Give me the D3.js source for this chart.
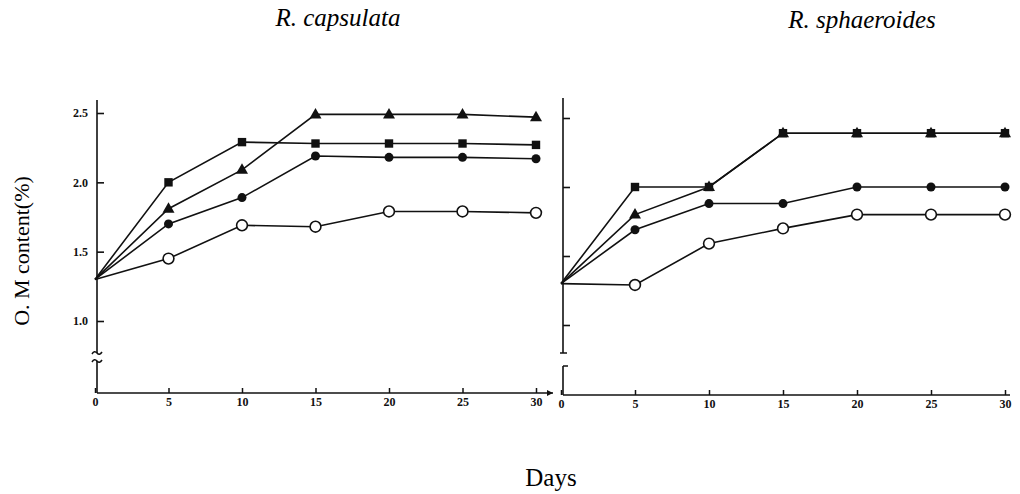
<!DOCTYPE html>
<html><head><meta charset="utf-8">
<script src="https://cdn.jsdelivr.net/npm/d3@7"></script>
<style>body{margin:0;background:#fff}svg{display:block}</style>
</head><body>
<svg id="c" width="1020" height="494"></svg>
<script>
const days = [0, 5, 10, 15, 20, 25, 30];
const yTicks = [1.0, 1.5, 2.0, 2.5];
const yTickLabels = ["1.0", "1.5", "2.0", "2.5"];
const panelTitles = ["R. capsulata", "R. sphaeroides"];
// R. capsulata
const capTriangle = [1.3, 1.81, 2.09, 2.49, 2.49, 2.49, 2.47];
const capSquare   = [1.3, 2.00, 2.29, 2.28, 2.28, 2.28, 2.27];
const capCircle   = [1.3, 1.70, 1.89, 2.19, 2.18, 2.18, 2.17];
const capOpen     = [1.3, 1.45, 1.69, 1.68, 1.79, 1.79, 1.78];
// R. sphaeroides
const sphTriangle = [1.3, 1.80, 2.00, 2.39, 2.39, 2.39, 2.39];
const sphSquare   = [1.3, 2.00, 2.00, 2.39, 2.39, 2.39, 2.39];
const sphCircle   = [1.3, 1.69, 1.88, 1.88, 2.00, 2.00, 2.00];
const sphOpen     = [1.3, 1.29, 1.59, 1.70, 1.80, 1.80, 1.80];

const svg = d3.select("#c");
const serif = "'Liberation Serif','DejaVu Serif',serif";

const panels = [
  {title: panelTitles[0], tx: 338, ty: 26,
   x: d3.scaleLinear([0, 30], [95, 536]), y: d3.scaleLinear([1, 2.5], [321, 113]),
   axY0: 100, axY1: 393, breakType: "squiggle", labels: true, xEnd: 553, arrow: true,
   series: [["open", capOpen], ["circle", capCircle], ["triangle", capTriangle], ["square", capSquare]]},
  {title: panelTitles[1], tx: 862, ty: 28,
   x: d3.scaleLinear([0, 30], [561, 1005]), y: d3.scaleLinear([1, 2.5], [325, 118]),
   axY0: 98, axY1: 395, breakType: "gap", labels: false, xEnd: 1010, arrow: false,
   series: [["open", sphOpen], ["circle", sphCircle], ["square", sphSquare], ["triangle", sphTriangle]]}
];

panels.forEach(p => {
  const g = svg.append("g");
  const x0 = p.x(0) + 2;
  // title
  svg.append("text").attr("x", p.tx).attr("y", p.ty).attr("text-anchor", "middle")
    .attr("font-family", serif).attr("font-style", "italic").attr("font-size", 25)
    .text(p.title);
  // x axis
  const xa = d3.axisBottom(p.x).tickValues(days).tickSize(-5).tickPadding(4).tickFormat(d3.format("d"));
  const gx = g.append("g").attr("transform", `translate(0,${p.axY1})`).call(xa);
  gx.select(".domain").remove();
  gx.selectAll("line").attr("stroke", "#111").attr("stroke-width", 1.5);
  gx.selectAll("text").attr("font-family", serif).attr("font-weight", "bold").attr("font-size", 12).attr("fill", "#111");
  g.append("line").attr("x1", x0).attr("x2", p.xEnd).attr("y1", p.axY1).attr("y2", p.axY1)
    .attr("stroke", "#111").attr("stroke-width", 1.6);
  if (p.arrow) {
    g.append("path").attr("d", `M${p.xEnd},${p.axY1} l-6,-3 l0,6 z`).attr("fill", "#111");
  }
  // y axis
  const ya = d3.axisLeft(p.y).tickValues(yTicks).tickSize(-7).tickPadding(9)
    .tickFormat((d, i) => p.labels ? yTickLabels[i] : "");
  const gy = g.append("g").attr("transform", `translate(${x0},0)`).call(ya);
  gy.select(".domain").remove();
  gy.selectAll("line").attr("stroke", "#111").attr("stroke-width", 1.6);
  gy.selectAll("text").attr("font-family", serif).attr("font-weight", "bold").attr("font-size", 12).attr("fill", "#111");
  const bTop = 353, bBot = p.breakType === "gap" ? 366 : 361;
  g.append("line").attr("x1", x0).attr("x2", x0).attr("y1", p.axY0).attr("y2", bTop).attr("stroke", "#111").attr("stroke-width", 1.6);
  g.append("line").attr("x1", x0).attr("x2", x0).attr("y1", bBot).attr("y2", p.axY1).attr("stroke", "#111").attr("stroke-width", 1.6);
  if (p.breakType === "squiggle") {
    [bTop, bBot].forEach(yy => {
      g.append("path").attr("d", `M${x0-5},${yy+1} q2.5,-4 5,-1 t5,-1`).attr("fill", "none").attr("stroke", "#111").attr("stroke-width", 1.5);
    });
  } else {
    g.append("line").attr("x1", x0-3).attr("x2", x0+4).attr("y1", bTop).attr("y2", bTop).attr("stroke", "#111").attr("stroke-width", 1.5);
    g.append("line").attr("x1", x0).attr("x2", x0+5).attr("y1", bBot).attr("y2", bBot).attr("stroke", "#111").attr("stroke-width", 1.5);
  }
  // series
  const line = d3.line().x((d, i) => p.x(days[i])).y(d => p.y(d));
  p.series.forEach(([shape, vals]) => {
    g.append("path").attr("d", line(vals)).attr("fill", "none").attr("stroke", "#111").attr("stroke-width", 1.6);
  });
  p.series.forEach(([shape, vals]) => {
    const pts = vals.map((v, i) => [p.x(days[i]), p.y(v)]).slice(1);
    const mg = g.append("g");
    pts.forEach(([cx, cy]) => {
      if (shape === "open") {
        mg.append("circle").attr("cx", cx).attr("cy", cy).attr("r", 5.4).attr("fill", "#fff").attr("stroke", "#111").attr("stroke-width", 1.6);
      } else if (shape === "circle") {
        mg.append("circle").attr("cx", cx).attr("cy", cy).attr("r", 4.5).attr("fill", "#111");
      } else if (shape === "square") {
        mg.append("rect").attr("x", cx - 4.2).attr("y", cy - 4.2).attr("width", 8.4).attr("height", 8.4).attr("fill", "#111");
      } else {
        mg.append("path").attr("d", `M${cx},${cy-6.5} L${cx+6},${cy+4} L${cx-6},${cy+4} Z`).attr("fill", "#111");
      }
    });
  });
});

svg.append("text").attr("x", 551).attr("y", 486).attr("text-anchor", "middle")
  .attr("font-family", serif).attr("font-size", 25).text("Days");
svg.append("text").attr("transform", "translate(29,251) rotate(-90)").attr("text-anchor", "middle")
  .attr("font-family", serif).attr("font-size", 22).text("O. M content(%)");
</script>
</body></html>
